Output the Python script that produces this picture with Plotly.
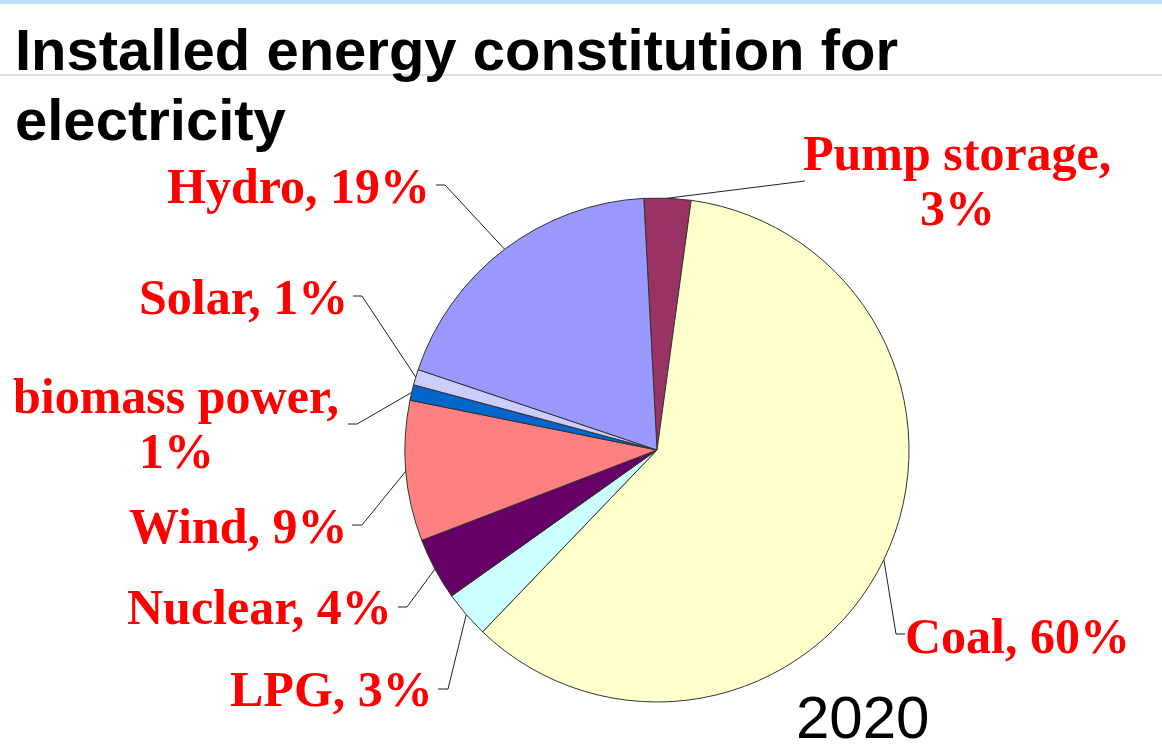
import math
import plotly.graph_objects as go

# Installed capacity shares for electricity, 2020 (percent)
sources = ["Pump storage", "Coal", "LPG", "Nuclear", "Wind", "biomass power", "Solar", "Hydro"]
shares = [3, 60, 3, 4, 9, 1, 1, 19]
slice_colors = ["#993366", "#FFFFCC", "#CCFFFF", "#660066", "#FF8080", "#0066CC", "#CCCCFF", "#9999FF"]

title_lines = ["Installed energy constitution for", "electricity"]
year_label = "2020"

W, H = 1162, 752
CX, CY, R = 657, 450, 252      # pie centre and radius in pixels
ROTATION = -3                  # first slice starts just left of 12 o'clock


def px(x):
    return x / W


def py(y):
    return 1 - y / H


fig = go.Figure(go.Pie(
    labels=sources,
    values=shares,
    sort=False,
    direction="clockwise",
    rotation=ROTATION,
    marker=dict(colors=slice_colors, line=dict(color="#333333", width=1)),
    textinfo="none",
    hoverinfo="label+percent",
    showlegend=False,
    domain=dict(x=[px(CX - R), px(CX + R)], y=[py(CY + R), py(CY - R)]),
))

# Mid-angle of every slice on the rim (clockwise from 12 o'clock)
total = sum(shares)
rim = {}
acc = ROTATION
for name, v in zip(sources, shares):
    span = v / total * 360
    mid = math.radians(acc + span / 2)
    rim[name] = (CX + R * math.sin(mid), CY - R * math.cos(mid))
    acc += span

# Label layout: text position, then elbow and end of the leader line (pixels)
label_layout = {
    "Pump storage":  dict(x=957, y=153, xanchor="center", two_lines=True, elbow=(805, 181), end=(805, 181)),
    "Coal":          dict(x=903, y=636, xanchor="left", two_lines=False, elbow=(896, 634), end=(905, 634)),
    "LPG":           dict(x=435, y=689, xanchor="right", two_lines=False, elbow=(448, 689), end=(438, 689)),
    "Nuclear":       dict(x=394, y=607, xanchor="right", two_lines=False, elbow=(407, 607), end=(398, 607)),
    "Wind":          dict(x=350, y=526, xanchor="right", two_lines=False, elbow=(362, 525), end=(352, 525)),
    "biomass power": dict(x=176, y=396, xanchor="center", two_lines=True, elbow=(357, 424), end=(348, 424)),
    "Solar":         dict(x=350, y=297, xanchor="right", two_lines=False, elbow=(362, 296), end=(353, 296)),
    "Hydro":         dict(x=432, y=186, xanchor="right", two_lines=False, elbow=(445, 185), end=(436, 185)),
}

label_font = dict(family="Liberation Serif, Times New Roman, serif", size=50, color="#FF0000", weight="bold")
LINE_GAP = 55

annotations = []
shapes = []
for name, v in zip(sources, shares):
    spec = label_layout[name]
    if spec["two_lines"]:
        parts = [f"{name},", f"{v}%"]
    else:
        parts = [f"{name}, {v}%"]
    for k, part in enumerate(parts):
        annotations.append(dict(
            x=px(spec["x"]), y=py(spec["y"] + k * LINE_GAP), xref="paper", yref="paper",
            text=part, showarrow=False, xanchor=spec["xanchor"], yanchor="middle",
            font=label_font,
        ))
    x0, y0 = rim[name]
    ex, ey = spec["elbow"]
    tx, ty = spec["end"]
    path = f"M {px(x0)} {py(y0)} L {px(ex)} {py(ey)} L {px(tx)} {py(ty)}"
    shapes.append(dict(type="path", path=path, xref="paper", yref="paper",
                       line=dict(color="#202020", width=1)))

# Title block and year
title_font = dict(family="Liberation Sans, Arial, sans-serif", size=58, color="#000000", weight="bold")
for k, line in enumerate(title_lines):
    annotations.append(dict(
        x=px(13), y=py(50 + k * 70), xref="paper", yref="paper", text=line,
        showarrow=False, xanchor="left", yanchor="middle", font=title_font,
    ))
annotations.append(dict(
    x=px(862), y=0, xref="paper", yref="paper", text=year_label,
    showarrow=False, xanchor="center", yanchor="bottom", borderpad=0,
    font=dict(family="Liberation Sans, Arial, sans-serif", size=60, color="#000000"),
))

# Decorative rules: light blue band at the top, grey rule under the first title line
shapes.append(dict(type="rect", xref="paper", yref="paper", x0=0, x1=1, y0=py(4), y1=1,
                   line=dict(width=0), fillcolor="#BFDDFB", layer="below"))
shapes.append(dict(type="line", xref="paper", yref="paper", x0=0, x1=1, y0=py(75), y1=py(75),
                   line=dict(color="#BDBDBD", width=1), layer="below"))

fig.update_layout(
    width=W, height=H,
    margin=dict(l=0, r=0, t=0, b=0),
    paper_bgcolor="white", plot_bgcolor="white",
    annotations=annotations,
    shapes=shapes,
)

fig.write_html("out.html")
